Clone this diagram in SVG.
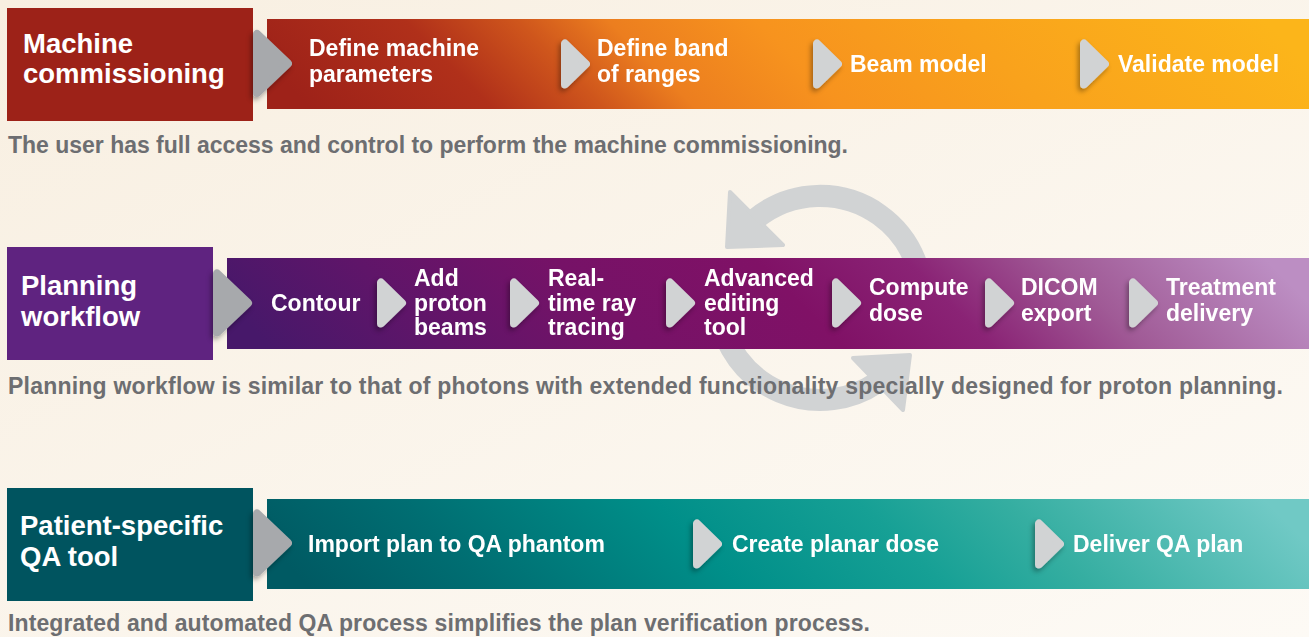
<svg xmlns="http://www.w3.org/2000/svg" width="1309" height="637" viewBox="0 0 1309 637">
<defs>
<style>
.hd{font-family:"Liberation Sans",Arial,sans-serif;font-weight:bold;font-size:27.5px;fill:#ffffff}
.st{font-family:"Liberation Sans",Arial,sans-serif;font-weight:bold;font-size:23px;fill:#ffffff}
.ds{font-family:"Liberation Sans",Arial,sans-serif;font-weight:bold;font-size:23px;fill:#6D6E71}
.cyc{fill:none;stroke:#D1D3D4;stroke-width:22}
.cyh{fill:#D1D3D4;stroke:#D1D3D4;stroke-width:4;stroke-linejoin:round}
</style>
<linearGradient id="bg" x1="0" y1="0" x2="1" y2="1">
<stop offset="0" stop-color="#F8EFE1"/>
<stop offset="1" stop-color="#FDFAF5"/>
</linearGradient>
<linearGradient id="gTop" gradientUnits="userSpaceOnUse" x1="267" y1="109" x2="832.7" y2="-456.7">
<stop offset="0.04" stop-color="#9E2219"/>
<stop offset="0.2" stop-color="#B0301A"/>
<stop offset="0.3" stop-color="#CF561C"/>
<stop offset="0.38" stop-color="#EC7E1F"/>
<stop offset="0.51" stop-color="#F7931E"/>
<stop offset="0.69" stop-color="#F9A21C"/>
<stop offset="0.96" stop-color="#FCB51A"/>
</linearGradient>
<linearGradient id="gPlan" gradientUnits="userSpaceOnUse" x1="227" y1="349" x2="813.5" y2="-237.5">
<stop offset="0.038" stop-color="#47186A"/>
<stop offset="0.186" stop-color="#5F1569"/>
<stop offset="0.357" stop-color="#761267"/>
<stop offset="0.527" stop-color="#801166"/>
<stop offset="0.655" stop-color="#8A2375"/>
<stop offset="0.783" stop-color="#A05A96"/>
<stop offset="0.962" stop-color="#BC8EC3"/>
</linearGradient>
<linearGradient id="gQA" gradientUnits="userSpaceOnUse" x1="267" y1="589" x2="832.7" y2="23.3">
<stop offset="0.04" stop-color="#005A63"/>
<stop offset="0.2" stop-color="#006E72"/>
<stop offset="0.42" stop-color="#008F89"/>
<stop offset="0.6" stop-color="#16A095"/>
<stop offset="0.73" stop-color="#35AEA1"/>
<stop offset="0.96" stop-color="#70C9C5"/>
</linearGradient>
<filter id="sh" x="-60%" y="-40%" width="220%" height="180%">
<feDropShadow dx="-2" dy="3" stdDeviation="2.5" flood-color="#000000" flood-opacity="0.35"/>
</filter>
<path id="chev" d="M4,-20.5 L4,20.5 L25,0 Z" fill="#D1D3D4" stroke="#D1D3D4" stroke-width="8" stroke-linejoin="round"/>
<path id="bigchev" d="M4,-29.5 L4,29.5 L35,0 Z" fill="#A7A9AC" stroke="#A7A9AC" stroke-width="8" stroke-linejoin="round"/>
</defs>

<rect x="0" y="0" width="1309" height="637" fill="url(#bg)"/>

<g id="cycle">
<path class="cyc" d="M915.9,332.9 A102,102 0 0 0 755.8,218.7"/>
<polygon class="cyh" points="730,192 783,245 727,247"/>
<path class="cyc" d="M719.5,315.7 A102,102 0 0 0 877,382.6"/>
<polygon class="cyh" points="853,358 903,410 910,355"/>
</g>

<g id="descriptions">
<text class="ds" x="8" y="153" textLength="840" lengthAdjust="spacing">The user has full access and control to perform the machine commissioning.</text>
<text class="ds" x="8" y="394" textLength="1275" lengthAdjust="spacing">Planning workflow is similar to that of photons with extended functionality specially designed for proton planning.</text>
<text class="ds" x="8" y="631" textLength="862" lengthAdjust="spacing">Integrated and automated QA process simplifies the plan verification process.</text>
</g>

<g id="machine-commissioning">
<rect x="267" y="19" width="1042" height="90" fill="url(#gTop)"/>
<rect x="7" y="8" width="246" height="113" fill="#9D2218"/>
<text class="hd" x="23" y="53">Machine</text>
<text class="hd" x="23" y="83">commissioning</text>
</g>

<g id="planning-workflow">
<rect x="227" y="258" width="1082" height="91" fill="url(#gPlan)"/>
<rect x="7" y="247" width="206" height="113" fill="#5F2380"/>
<text class="hd" x="21" y="295">Planning</text>
<text class="hd" x="21" y="326">workflow</text>
</g>

<g id="qa-tool">
<rect x="267" y="499" width="1042" height="90" fill="url(#gQA)"/>
<rect x="7" y="488" width="246" height="113" fill="#00545F"/>
<text class="hd" x="20" y="535">Patient-specific</text>
<text class="hd" x="20" y="566">QA tool</text>
</g>

<g id="connectors" filter="url(#sh)">
<use href="#bigchev" transform="translate(253,63.5)"/>
<use href="#bigchev" transform="translate(213,303)"/>
<use href="#bigchev" transform="translate(253,543)"/>
<use href="#chev" transform="translate(561,64)"/>
<use href="#chev" transform="translate(813,64)"/>
<use href="#chev" transform="translate(1080,64)"/>
<use href="#chev" transform="translate(377,303)"/>
<use href="#chev" transform="translate(510,303)"/>
<use href="#chev" transform="translate(666,303)"/>
<use href="#chev" transform="translate(832,303)"/>
<use href="#chev" transform="translate(985,303)"/>
<use href="#chev" transform="translate(1129,303)"/>
<use href="#chev" transform="translate(693,544)"/>
<use href="#chev" transform="translate(1035,544)"/>
</g>

<g id="step-define-machine"><text class="st" x="309" y="56">Define machine</text><text class="st" x="309" y="82">parameters</text></g>
<g id="step-define-band"><text class="st" x="597" y="56">Define band</text><text class="st" x="597" y="82">of ranges</text></g>
<g id="step-beam-model"><text class="st" x="850" y="72">Beam model</text></g>
<g id="step-validate-model"><text class="st" x="1118" y="72">Validate model</text></g>

<g id="step-contour"><text class="st" x="271" y="311">Contour</text></g>
<g id="step-add-beams"><text class="st" x="414" y="286">Add</text><text class="st" x="414" y="311">proton</text><text class="st" x="414" y="335">beams</text></g>
<g id="step-ray-tracing"><text class="st" x="548" y="286">Real-</text><text class="st" x="548" y="311">time ray</text><text class="st" x="548" y="335">tracing</text></g>
<g id="step-editing-tool"><text class="st" x="704" y="286">Advanced</text><text class="st" x="704" y="311">editing</text><text class="st" x="704" y="335">tool</text></g>
<g id="step-compute-dose"><text class="st" x="869" y="295">Compute</text><text class="st" x="869" y="321">dose</text></g>
<g id="step-dicom-export"><text class="st" x="1021" y="295">DICOM</text><text class="st" x="1021" y="321">export</text></g>
<g id="step-treatment-delivery"><text class="st" x="1166" y="295">Treatment</text><text class="st" x="1166" y="321">delivery</text></g>

<g id="step-import-plan"><text class="st" x="308" y="552">Import plan to QA phantom</text></g>
<g id="step-planar-dose"><text class="st" x="732" y="552">Create planar dose</text></g>
<g id="step-deliver-qa"><text class="st" x="1073" y="552">Deliver QA plan</text></g>
</svg>
